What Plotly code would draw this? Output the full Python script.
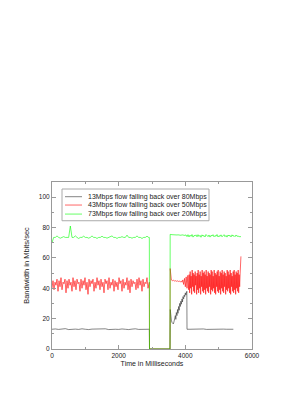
import plotly.graph_objects as go

series_names = [
    "13Mbps flow falling back over 80Mbps",
    "43Mbps flow falling back over 50Mbps",
    "73Mbps flow falling back over 20Mbps",
]
series_colors = ["#333333", "#ff0000", "#00ff00"]

x_ticks = [0, 2000, 4000, 6000]
y_ticks = [0, 20, 40, 60, 80, 100]

# ---- 13 Mbps flow (black) ----
black_pre_x0, black_pre_dx = 0, 100
black_pre = [13, 13.2, 12.9, 13.1, 13.4, 12.8, 13, 13.1, 12.9, 13.3,
             13, 12.8, 13.1, 13.2, 12.9, 13, 13.3, 12.8, 13.1, 13,
             12.9, 13.2, 13, 12.8, 13.1, 13.3, 12.9, 13, 13.1, 13]
black_mid_t = [2900, 2920, 2925, 3540, 3548, 3560, 3580, 3600, 3620, 3640,
               3660, 3680, 3700, 3715, 3730, 3750, 3765, 3780, 3800, 3815,
               3830, 3850, 3865, 3880, 3900, 3915, 3930, 3950, 3965, 3980,
               4000, 4015, 4030, 4045, 4050, 4140]
black_mid = [13, 13, 0, 0, 26, 22, 19, 17.5, 17, 16.5,
             18, 20, 22, 19.5, 24, 22, 26, 23.5, 28, 25.5,
             30, 28, 31.5, 29.5, 33, 31, 34.5, 33, 35.5, 34.5,
             37, 35.5, 36.5, 38, 13, 13]
black_post_x0, black_post_dx = 4140, 100
black_post = [13, 13.1, 12.9, 13, 13.2, 12.9, 13, 13.1, 12.8, 13,
              13.1, 13, 12.9, 13]

# ---- 43 Mbps flow (red) ----
red_pre_x0, red_pre_dx = 0, 30
red_pre = [40, 45, 39, 44, 42, 46, 38, 45, 41, 47,
           39, 44, 43, 46, 37, 45, 40, 46, 42, 44,
           38, 47, 41, 45, 39, 46, 43, 44, 38, 46,
           40, 45, 42, 47, 39, 44, 36, 46, 41, 45,
           43, 46, 38, 44, 40, 47, 42, 45, 39, 46,
           41, 44, 37, 46, 43, 45, 39, 47, 40, 44,
           42, 46, 38, 45, 41, 44, 39, 47, 43, 45,
           38, 46, 40, 44, 42, 47, 39, 45, 37, 46,
           41, 45, 43, 44, 39, 46, 40, 47, 42, 45,
           38, 46, 41, 44, 43, 47, 40]
red_mid_t = [2880, 2920, 2925, 3540, 3545, 3560, 3580, 3610, 3640, 3670,
             3700, 3730, 3760, 3790, 3820, 3850, 3880, 3900, 3925, 3950,
             3975, 4000, 4025, 4050, 4075, 4100]
red_mid = [40, 44, 0, 0, 53, 46, 45.5, 45, 45.3, 44.8,
           45, 44.6, 44.9, 44.5, 44.7, 44.3, 44.6, 44, 45.5, 42.5,
           46.5, 41, 47.5, 40, 48.5, 39]
red_post_x0, red_post_dx = 4100, 15
red_post = [39, 49, 37, 51, 40, 48, 36, 52, 41, 50,
            38, 49, 37, 51, 42, 48, 36, 50, 39, 52,
            37, 49, 40, 51, 36, 48, 41, 52, 38, 50,
            37, 51, 39, 49, 36, 52, 40, 48, 38, 51,
            37, 50, 41, 49, 36, 52, 39, 51, 38, 48,
            40, 52, 37, 50, 36, 49, 41, 51, 38, 52,
            37, 48, 39, 51, 36, 50, 40, 52, 38, 49,
            37, 51, 41, 50, 36, 48, 39, 52, 38, 51,
            40, 49, 37, 52, 36, 50, 41, 48, 38, 51,
            37, 52, 39, 49, 36, 51, 40, 50, 38, 52,
            37, 49, 41, 50]
red_end_t = [5645, 5668]
red_end = [50, 61]

# ---- 73 Mbps flow (green) ----
green_pre_x0, green_pre_dx = 0, 50
green_pre = [70, 73.5, 73.5, 74.5, 73.5, 73, 73.5, 74, 73.5, 73.5,
             73.5, 81, 73.5, 73.5, 74.5, 73.5, 72.8, 73.5, 73.5, 74.3,
             73.5, 73.5, 73, 73.5, 74.5, 73.5, 73.5, 72.8, 73.5, 73.5,
             74.3, 73.5, 73.5, 73, 73.5, 73.5, 74.5, 73.5, 73.5, 72.8,
             73.5, 73.5, 74, 73.5, 73.5, 75, 73.5, 73.5, 73, 73.5,
             73.5, 74.5, 73.5, 73.5, 72.8, 73.5, 73.5, 74.3, 73.5]
green_mid_t = [2900, 2920, 2925, 3540, 3545, 3600]
green_mid = [73.5, 73.5, 0, 0, 75.5, 75.3]
green_post_x0, green_post_dx = 3600, 30
green_post = [75.3, 75.2, 75, 75.2, 74.8, 75.1, 75.2, 75, 75.1, 74.9,
              75.2, 75, 75.1, 74.8, 75.2, 74, 75.3, 73.8, 75, 74.2,
              75.4, 73.7, 74.8, 74.5, 75.2, 73.9, 75.3, 74.1, 74.9, 73.6,
              75.2, 74.3, 74.8, 73.8, 75.4, 74.6, 74, 75.1, 73.7, 74.9,
              74.4, 75.3, 73.9, 74.8, 74.2, 75.4, 73.8, 74.7, 74.1, 75.2,
              73.9, 74.6, 75.3, 74, 74.8, 73.7, 75.1, 74.4, 74.9, 73.8,
              75.2, 74.3, 74.7, 74, 75.1, 74.2, 74.5, 74, 73.8, 74]

LW = 0.6
fig = go.Figure()


def add_reg(y, x0, dx, color):
    fig.add_trace(go.Scatter(y=y, x0=x0, dx=dx, mode="lines",
                             line=dict(color=color, width=LW), showlegend=False,
                             hoverinfo="skip"))


def add_xy(x, y, color):
    fig.add_trace(go.Scatter(x=x, y=y, mode="lines",
                             line=dict(color=color, width=LW), showlegend=False,
                             hoverinfo="skip"))


c0, c1, c2 = series_colors
add_reg(black_pre, black_pre_x0, black_pre_dx, c0)
add_xy(black_mid_t, black_mid, c0)
add_reg(black_post, black_post_x0, black_post_dx, c0)

add_reg(red_pre, red_pre_x0, red_pre_dx, c1)
add_xy(red_mid_t, red_mid, c1)
add_reg(red_post, red_post_x0, red_post_dx, c1)
add_xy(red_end_t, red_end, c1)

add_reg(green_pre, green_pre_x0, green_pre_dx, c2)
add_xy(green_mid_t, green_mid, c2)
add_reg(green_post, green_post_x0, green_post_dx, c2)

# ---- manual legend (compact, gnuplot-like) ----
shapes = [dict(type="rect", xref="paper", yref="paper", x0=0.05, x1=0.785,
               y0=0.768, y1=0.958, line=dict(color="#aaaaaa", width=1),
               fillcolor="rgba(0,0,0,0)")]
annotations = []
row_y = [0.912, 0.862, 0.808]
for name, col, ry in zip(series_names, series_colors, row_y):
    shapes.append(dict(type="line", xref="paper", yref="paper", x0=0.065, x1=0.15,
                       y0=ry, y1=ry, line=dict(color=col, width=LW)))
    annotations.append(dict(xref="paper", yref="paper", x=0.172, y=ry, text=name,
                            showarrow=False, xanchor="left", yanchor="middle",
                            font=dict(family="Liberation Sans, Arial", size=7, color="#222")))

axis_common = dict(
    showline=True, linecolor="#999999", linewidth=1, mirror="ticks",
    ticks="inside", ticklen=4, tickcolor="#999999", tickwidth=1,
    showgrid=False, zeroline=False,
    tickfont=dict(family="Liberation Sans, Arial", size=6.5, color="#222"),
)

fig.update_layout(
    width=305, height=394,
    margin=dict(l=44, r=61, t=174, b=53, pad=0),
    paper_bgcolor="white", plot_bgcolor="white",
    showlegend=False,
    shapes=shapes, annotations=annotations,
    xaxis=dict(range=[0, 6000], tickvals=x_ticks, ticktext=[str(v) for v in x_ticks],
               minor=dict(dtick=1000, ticks="inside", ticklen=2, tickcolor="#999999"),
               title=dict(text="Time in Milliseconds", standoff=3,
                          font=dict(family="Liberation Sans, Arial", size=7, color="#222")),
               automargin=False, **axis_common),
    yaxis=dict(range=[0, 110], tickvals=y_ticks, ticktext=[str(v) for v in y_ticks],
               minor=dict(dtick=10, ticks="inside", ticklen=2, tickcolor="#999999"),
               title=dict(text="Bandwidth in Mbits/sec", standoff=8,
                          font=dict(family="Liberation Sans, Arial", size=7.5, color="#222")),
               automargin=False, **axis_common),
)

fig.write_html("out.html")
